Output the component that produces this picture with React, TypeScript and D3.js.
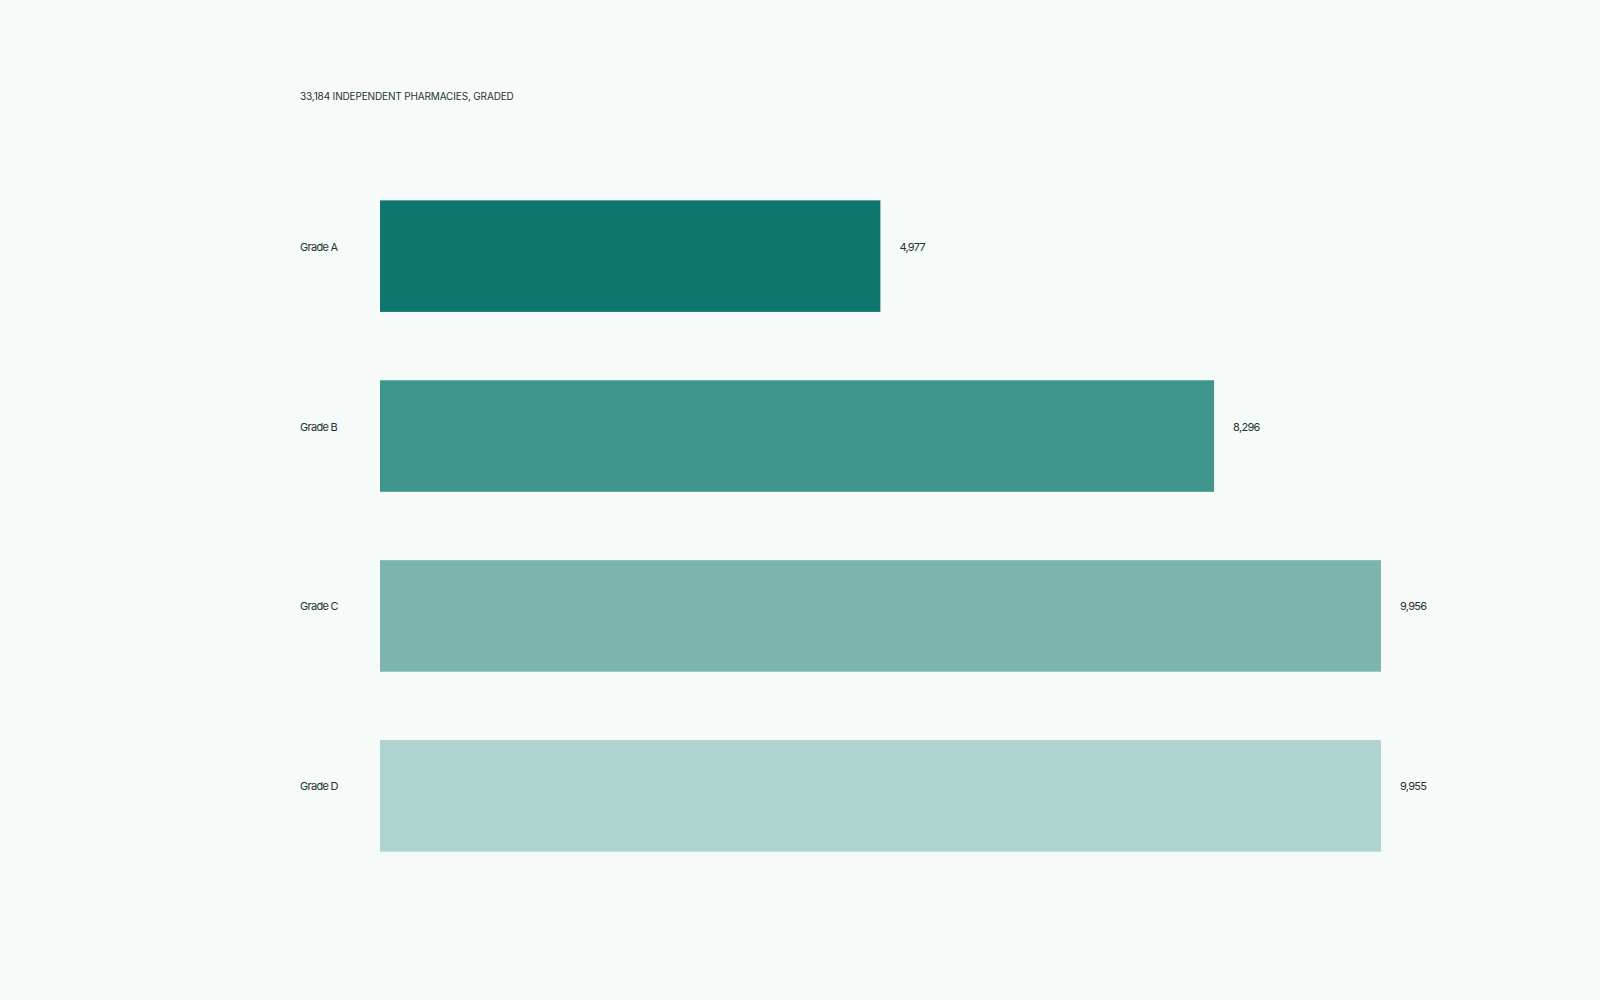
import * as d3 from 'd3'

const grades = ['Grade A', 'Grade B', 'Grade C', 'Grade D']
const counts = [4977, 8296, 9956, 9955]
const barColors = ['#0e766e', '#3e958c', '#7bb5ae', '#afd3cf']
const title = '33,184 INDEPENDENT PHARMACIES, GRADED'

const width = 1600
const height = 1000
const fontFamily = 'Inter, "Noto Sans", sans-serif'
const ink = '#1d3431'

export default function App() {
  const x = d3.scaleLinear().domain([0, d3.max(counts) as number]).range([380, 1381])
  const y = d3.scaleBand<string>().domain(grades).range([132, 920]).padding(0.38)
  const fmt = d3.format(',')

  return (
    <svg
      width={width}
      height={height}
      style={{ position: 'absolute', left: 0, top: 0, display: 'block' }}
    >
      <rect width={width} height={height} fill="#f6faf9" />
      <text x={300} y={100} fontFamily={fontFamily} fontSize={10} fill={ink} letterSpacing={-0.15}>
        {title}
      </text>
      {grades.map((g, i) => {
        // labels sit a little above the bar middle
        const base = (y(g) as number) + y.bandwidth() / 2 - 5.5
        return (
          <g key={g}>
            <text x={300} y={base} fontFamily={fontFamily} fontSize={11} fill={ink} letterSpacing={-0.7}>
              {g}
            </text>
            <rect
              x={x(0)}
              y={y(g)}
              width={x(counts[i]) - x(0)}
              height={y.bandwidth()}
              fill={barColors[i]}
            />
            <text
              x={x(counts[i]) + 19}
              y={base}
              fontFamily={fontFamily}
              fontSize={11}
              fill={ink}
              letterSpacing={-0.7}
            >
              {fmt(counts[i])}
            </text>
          </g>
        )
      })}
    </svg>
  )
}
